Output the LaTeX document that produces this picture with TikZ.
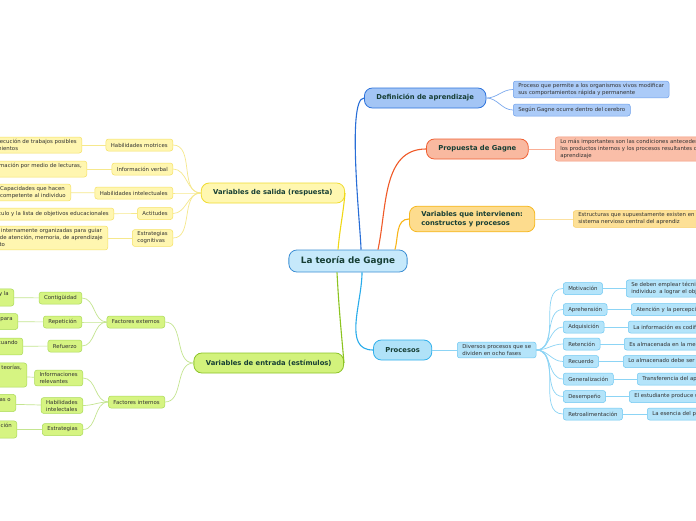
\documentclass[tikz,border=0pt]{standalone}
\usepackage{fontspec}
\setmainfont{DejaVu Sans}
\usetikzlibrary{positioning, calc}

\definecolor{titleText}{RGB}{22,62,52}
\definecolor{leafText}{RGB}{50,50,50}
\definecolor{centFill}{RGB}{198,233,251}
\definecolor{centLine}{RGB}{61,143,212}
% branch colours
\definecolor{defFill}{RGB}{163,197,245}
\definecolor{defLine}{RGB}{45,115,220}
\definecolor{defLeaf}{RGB}{171,203,248}
\definecolor{defLeafLine}{RGB}{110,160,235}
\definecolor{defLink}{RGB}{40,110,215}
\definecolor{defSub}{RGB}{125,170,238}
\definecolor{propFill}{RGB}{249,185,160}
\definecolor{propLine}{RGB}{240,95,50}
\definecolor{propLeaf}{RGB}{250,190,168}
\definecolor{propLeafLine}{RGB}{245,150,120}
\definecolor{propLink}{RGB}{240,90,40}
\definecolor{propSub}{RGB}{250,175,150}
\definecolor{interFill}{RGB}{253,220,142}
\definecolor{interLine}{RGB}{246,184,32}
\definecolor{interLeaf}{RGB}{253,224,150}
\definecolor{interLeafLine}{RGB}{248,205,100}
\definecolor{interLink}{RGB}{248,180,24}
\definecolor{interSub}{RGB}{252,225,160}
\definecolor{procFill}{RGB}{176,226,248}
\definecolor{procLine}{RGB}{48,176,236}
\definecolor{procLeaf}{RGB}{180,228,250}
\definecolor{procLeafLine}{RGB}{110,200,242}
\definecolor{procLink}{RGB}{40,172,235}
\definecolor{procSub}{RGB}{140,212,245}
\definecolor{salFill}{RGB}{255,247,176}
\definecolor{salLine}{RGB}{240,220,50}
\definecolor{salLeaf}{RGB}{255,246,176}
\definecolor{salLeafLine}{RGB}{245,225,100}
\definecolor{salLink}{RGB}{240,216,20}
\definecolor{salSub}{RGB}{246,232,140}
\definecolor{entFill}{RGB}{210,242,124}
\definecolor{entLine}{RGB}{140,196,40}
\definecolor{entLeaf}{RGB}{214,244,130}
\definecolor{entLeafLine}{RGB}{170,218,90}
\definecolor{entLink}{RGB}{140,196,32}
\definecolor{entSub}{RGB}{196,229,144}

\begin{document}
\begin{tikzpicture}[
  x=1pt, y=-1pt,
  central/.style={draw=centLine, fill=centFill, line width=0.8pt, rounded corners=8pt, minimum height=22pt, inner xsep=12pt, font=\fontsize{8.8}{10}\selectfont\bfseries, text=titleText},
  topic/.style={draw=#1Line, fill=#1Fill, line width=0.8pt, rounded corners=8pt, minimum height=20pt, inner xsep=12pt, inner ysep=5pt, align=left, font=\fontsize{6.8}{9}\selectfont\bfseries, text=titleText},
  leaf/.style={draw=#1LeafLine, fill=#1Leaf, line width=0.5pt, rounded corners=2.5pt, minimum height=12pt, inner xsep=5pt, inner ysep=2.3pt, align=left, font=\fontsize{5.4}{7}\selectfont, text=leafText},
  link/.style={draw=#1Link, line width=1.1pt},
  sublink/.style={draw=#1Sub, line width=0.7pt}
]

\fill[white] (0,0) rectangle (696,520);
\useasboundingbox (0,0) rectangle (696,520);

% Central topic
\node[central] (central) at (348,261) {La teoría de Gagne};

% Main topics
\node[topic=def, anchor=west] (defTopic) at (364,98) {Definición de aprendizaje};
\node[topic=prop, anchor=west] (propTopic) at (426,149) {Propuesta de Gagne};
\node[topic=inter, anchor=west] (interTopic) at (409,219) {Variables que intervienen:\\constructos y procesos};
\node[topic=proc, anchor=west] (procTopic) at (373,350) {Procesos};
\node[topic=sal, anchor=east] (salTopic) at (345,193) {Variables de salida (respuesta)};
\node[topic=ent, anchor=east] (entTopic) at (344,363) {Variables de entrada (estímulos)};

\draw[link=def] ([xshift=13pt]central.north) to[out=90,in=180,looseness=0.3] (defTopic.west);
\draw[link=prop] ([xshift=30pt]central.north) to[out=78,in=180] (propTopic.west);
\draw[link=inter] ([xshift=47pt]central.north) to[out=75,in=180] (interTopic.west);
\draw[link=proc] ([xshift=14pt]central.south) to[out=-90,in=180] (procTopic.west);
\draw[link=sal] ([xshift=-10pt]central.north) to[out=85,in=-95] (salTopic.east);
\draw[link=ent] ([xshift=-11pt]central.south) to[out=-87,in=95] (entTopic.east);

% Definicion de aprendizaje
\node[leaf=def, anchor=west] (defL1) at (513,89.5) {Proceso que permite a los organismos vivos modificar\\sus comportamientos rápida y permanente};
\node[leaf=def, anchor=west] (defL2) at (513,110) {Según Gagne ocurre dentro del cerebro};
\draw[sublink=def] (defTopic.east) to[out=0,in=180] (defL1.west);
\draw[sublink=def] (defTopic.east) to[out=0,in=180] (defL2.west);

% Propuesta de Gagne
\node[leaf=prop, anchor=west] (propL1) at (555,149) {Lo más importantes son las condiciones antecedentes,\\los productos internos y los procesos resultantes del\\aprendizaje};
\draw[sublink=prop] (propTopic) -- (propL1);

% Variables que intervienen
\node[leaf=inter, anchor=west] (interL1) at (573,219) {Estructuras que supuestamente existen en el\\sistema nervioso central del aprendiz};
\draw[sublink=inter] (interTopic) -- (interL1);

% Procesos
\node[leaf=proc, anchor=west] (diversos) at (457,350) {Diversos procesos que se\\dividen en ocho fases};
\draw[sublink=proc] (procTopic) -- (diversos);

\node[leaf=proc, anchor=west] (fase1) at (563,288.5) {Motivación};
\node[leaf=proc, anchor=west] (fase2) at (563,309.5) {Aprehensión};
\node[leaf=proc, anchor=west] (fase3) at (563,327) {Adquisición};
\node[leaf=proc, anchor=west] (fase4) at (563,344) {Retención};
\node[leaf=proc, anchor=west] (fase5) at (563,361.5) {Recuerdo};
\node[leaf=proc, anchor=west] (fase6) at (563,379) {Generalización};
\node[leaf=proc, anchor=west] (fase7) at (563,396.5) {Desempeño};
\node[leaf=proc, anchor=west] (fase8) at (563,414) {Retroalimentación};

\node[leaf=proc, anchor=west] (faseL1) at (626,288.5) {Se deben emplear técnicas que motiven al\\individuo~ a lograr el objetivo};
\node[leaf=proc, anchor=west] (faseL2) at (631,309.5) {Atención y la percepción selectiva};
\node[leaf=proc, anchor=west] (faseL3) at (628,327) {La información es codificada};
\node[leaf=proc, anchor=west] (faseL4) at (624,344) {Es almacenada en la memoria};
\node[leaf=proc, anchor=west] (faseL5) at (623,361.5) {Lo almacenado debe ser recuperado};
\node[leaf=proc, anchor=west] (faseL6) at (637,379) {Transferencia del aprendizaje};
\node[leaf=proc, anchor=west] (faseL7) at (629,396.5) {El estudiante produce una respuesta};
\node[leaf=proc, anchor=west] (faseL8) at (647,414) {La esencia del proceso};

\foreach \i in {1,...,8} {
  \draw[sublink=proc] (diversos.east) to[out=0,in=180] (fase\i.west);
  \draw[sublink=proc] (fase\i) -- (faseL\i);
}

% Variables de salida
\node[leaf=sal, anchor=east] (sal1) at (173,145) {Habilidades motrices};
\node[leaf=sal, anchor=east] (sal2) at (173,169) {Información verbal};
\node[leaf=sal, anchor=east] (sal3) at (173,193) {Habilidades intelectuales};
\node[leaf=sal, anchor=east] (sal4) at (173,213.5) {Actitudes};
\node[leaf=sal, anchor=east] (sal5) at (173,238) {Estrategias\\cognitivas};

\node[leaf=sal, anchor=east] (salL1) at (82,145) {Se refiere a la ejecución de trabajos posibles\\mediante movimientos};
\node[leaf=sal, anchor=east] (salL2) at (87,169) {Adquisición de información por medio de lecturas,\\conversaciones};
\node[leaf=sal, anchor=east] (salL3) at (71,192.5) {Capacidades que hacen\\competente al individuo};
\node[leaf=sal, anchor=east] (salL4) at (114,214) {Se basa en el currículo y la lista de objetivos educacionales};
\node[leaf=sal, anchor=east] (salL5) at (108,238) {Capacidades internamente organizadas para guiar\\los procesos de atención, memoria, de aprendizaje\\y pensamiento};

\foreach \i in {1,...,5} {
  \draw[sublink=sal] (salTopic.west) to[out=180,in=0] (sal\i.east);
  \draw[sublink=sal] (sal\i) -- (salL\i);
}

% Variables de entrada
\node[leaf=ent, anchor=east] (extF) at (165,322) {Factores externos};
\node[leaf=ent, anchor=east] (intF) at (165,402) {Factores internos};
\draw[sublink=ent] (entTopic.west) to[out=180,in=0] (extF.east);
\draw[sublink=ent] (entTopic.west) to[out=180,in=0] (intF.east);

\node[leaf=ent, anchor=east] (ext1) at (82,298) {Contigüidad};
\node[leaf=ent, anchor=east] (ext2) at (82,322) {Repetición};
\node[leaf=ent, anchor=east] (ext3) at (82,346) {Refuerzo};
\node[leaf=ent, anchor=east] (extL1) at (14,297.5) {La situación estímulo y la\\respuesta};
\node[leaf=ent, anchor=east] (extL2) at (18,321.5) {Se repiten los estímulos para\\reforzar};
\node[leaf=ent, anchor=east] (extL3) at (23,346.5) {Se fortalece el aprendizaje cuando\\hay recompensa};

\node[leaf=ent, anchor=east] (int1) at (83,378) {Informaciones\\relevantes};
\node[leaf=ent, anchor=east] (int2) at (83,405.5) {Habilidades\\intelectales};
\node[leaf=ent, anchor=east] (int3) at (83,429.5) {Estrategias};
\node[leaf=ent, anchor=east] (intL1) at (27,375) {Datos, hechos, ideas, conceptos y teorías,\\que el alumno trae de sus etapas\\previas};
\node[leaf=ent, anchor=east] (intL2) at (16,403) {Estrategias de resolución aprendidas o\\adquiridas};
\node[leaf=ent, anchor=east] (intL3) at (17,429.5) {Estrategias para la solución\\de problemas};

\foreach \i in {1,2,3} {
  \draw[sublink=ent] (extF.west) to[out=180,in=0] (ext\i.east);
  \draw[sublink=ent] (ext\i) -- (extL\i);
  \draw[sublink=ent] (intF.west) to[out=180,in=0] (int\i.east);
  \draw[sublink=ent] (int\i) -- (intL\i);
}

\end{tikzpicture}
\end{document}
